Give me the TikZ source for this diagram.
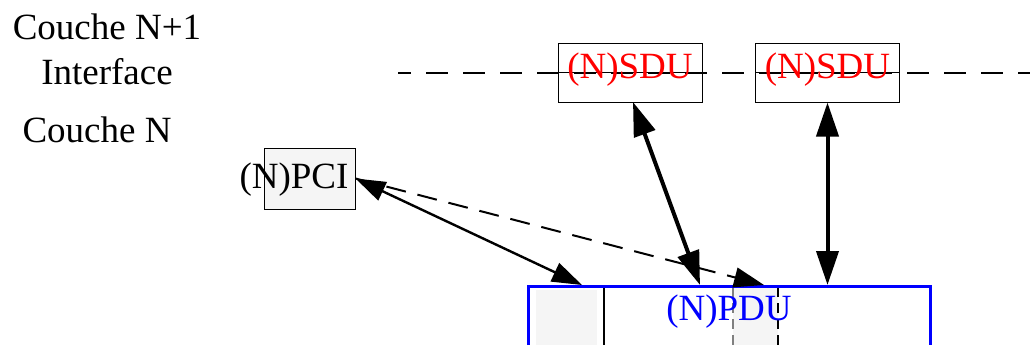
\documentclass[tikz,border=0pt]{standalone}
\usepackage{fontspec}
\setmainfont{Liberation Serif}
\usetikzlibrary{arrows.meta}
\begin{document}
\begin{tikzpicture}[x=0.5pt,y=-0.5pt]
\tikzstyle{txt}=[inner sep=0pt, font=\fontsize{18.5}{22}\selectfont]
\tikzstyle{sdubox}=[draw, line width=0.5pt, minimum width=72pt,
                        minimum height=29.5pt, inner sep=0pt]
\tikzstyle{pcibox}=[draw, line width=0.5pt, fill=gray!8, minimum width=45.5pt,
                        minimum height=30.5pt, inner sep=0pt]
\tikzstyle{pdubox}=[draw=blue, line width=1.5pt, minimum width=201pt,
                        minimum height=42.5pt, inner sep=0pt]
\tikzstyle{bigarr}=[{Triangle[length=17pt,width=11pt]}-{Triangle[length=17pt,width=11pt]},
                        line width=2pt]
\tikzstyle{arr}=[{Triangle[length=15pt,width=10pt]}-{Triangle[length=15pt,width=10pt]},
                        line width=1.2pt]
\useasboundingbox (0,0) rectangle (1030,344);
	% labels on the left
	\node[txt] (cn1) at (107,27){Couche N+1};
	\node[txt] (itf) at (107,72){Interface};
	\node[txt] (cn) at (97,130){Couche N};
	% interface line
	\coordinate (l0) at (398,73);
	\coordinate (l1) at (1035,73);
	\draw[line width=0.65pt, dash pattern=on 11pt off 7.5pt, dash phase=4.5pt] (l0)--(l1);
	% boxes
	\node[sdubox] (sdu1) at (630,72.5){};
	\node[sdubox] (sdu2) at (827.5,72.5){};
	\draw[line width=0.65pt] (sdu1.west)--(sdu1.east);
	\draw[line width=0.65pt] (sdu2.west)--(sdu2.east);
	\node[txt, red] (sdut1) at (630,70){(N)SDU};
	\node[txt, red] (sdut2) at (827.5,70){(N)SDU};
	\node[pcibox] (pci) at (309.5,178.5){};
	\node[txt] (pcit) at (294,180){(N)PCI};
	\fill[gray!8] (536,290) rectangle (597,372);
	\fill[gray!8] (733,287) rectangle (778,372);
	\draw[line width=0.75pt] (604,285)--(604,372);
	\draw[gray, line width=0.75pt, dash pattern=on 5pt off 3pt] (733,287)--(733,372);
	\draw[line width=0.75pt, dash pattern=on 5pt off 3pt] (778,287)--(778,372);
	\node[pdubox] (pdu) at (729,328.5){};
	\node[txt, blue] (pdut) at (729,312){(N)PDU};
	% arrows
	\coordinate (p1) at (582,285);
	\coordinate (p2) at (700,285);
	\coordinate (p3) at (764,285);
	\coordinate (p4) at (827.5,285);
	\coordinate (s1) at (633,102);
	\draw[arr] (pci.east)--(p1);
	\draw[-{Triangle[length=15pt,width=10pt]}, line width=1pt,
	      dash pattern=on 10pt off 6pt] (pci.east)--(p3);
	\draw[bigarr] (s1)--(p2);
	\draw[bigarr] (sdu2.south)--(p4);
\end{tikzpicture}
\end{document}
